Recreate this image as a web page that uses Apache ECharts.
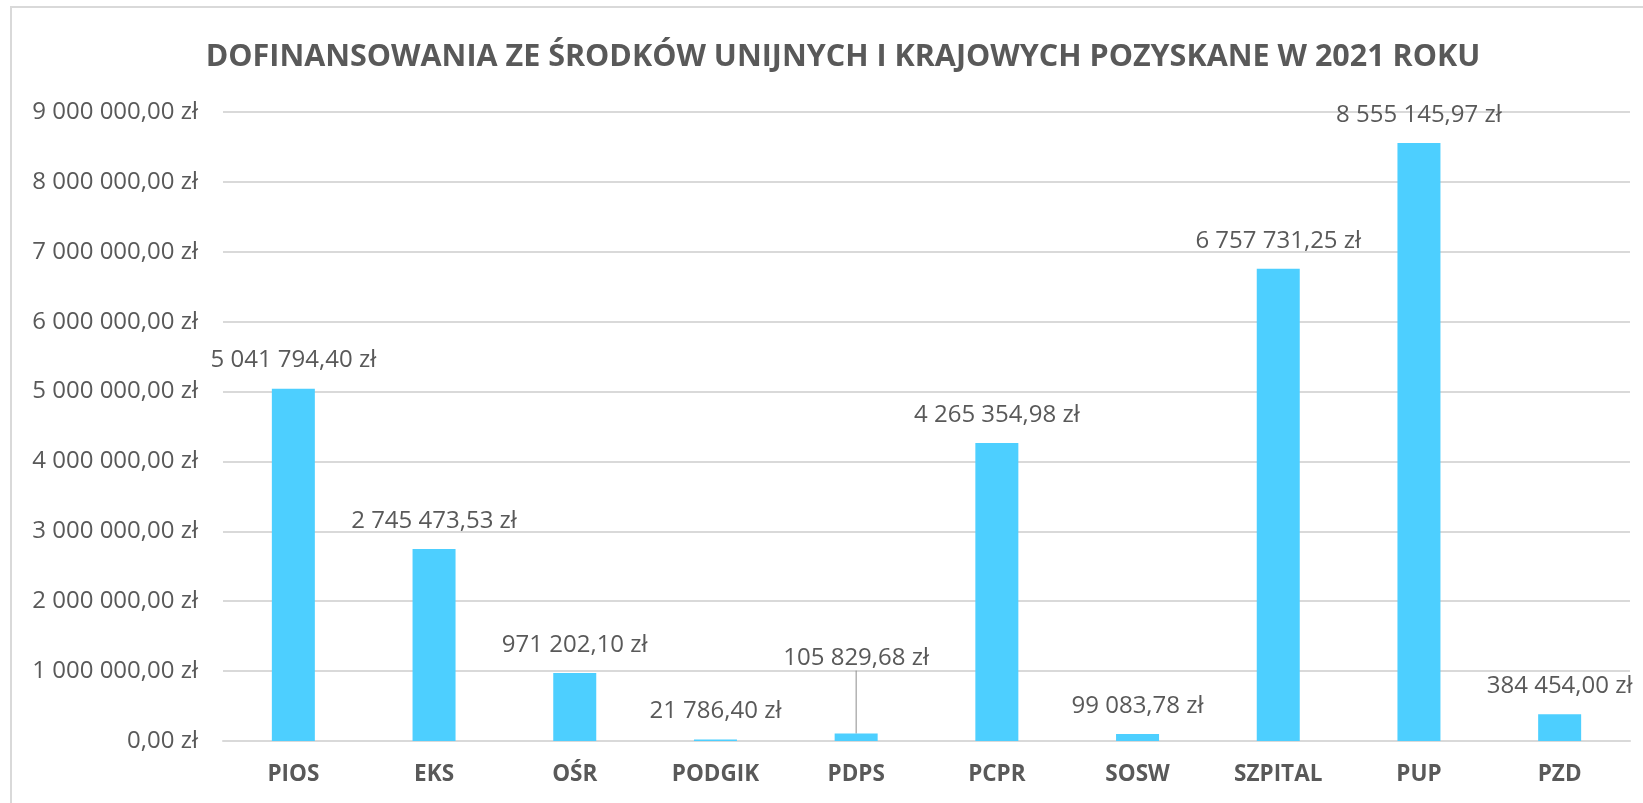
<!DOCTYPE html>
<html lang="pl">
<head>
<meta charset="UTF-8">
<title>Dofinansowania 2021</title>
<script src="https://cdn.jsdelivr.net/npm/echarts@6/dist/echarts.min.js"></script>
<style>
html, body { margin: 0; padding: 0; background: #fff; overflow: hidden; }
#frame { position: absolute; left: 10px; top: 6px; width: 1700px; height: 900px; border-left: 2px solid #d9d9d9; border-top: 2px solid #d9d9d9; }
#chart { position: absolute; left: 0; top: 0; width: 1643px; height: 803px; }
</style>
</head>
<body>
<div id="frame"></div>
<div id="chart"></div>
<script>
const categories = ['PIOS', 'EKS', 'OŚR', 'PODGIK', 'PDPS', 'PCPR', 'SOSW', 'SZPITAL', 'PUP', 'PZD'];
const amounts = [5041794.40, 2745473.53, 971202.10, 21786.40, 105829.68, 4265354.98, 99083.78, 6757731.25, 8555145.97, 384454.00];
const yTicks = { min: 0, max: 9000000, step: 1000000 };
const liftedLabels = [4]; // PDPS: label pushed up with a leader line

function zl(v) {
  const parts = v.toFixed(2).split('.');
  return parts[0].replace(/\B(?=(\d{3})+(?!\d))/g, ' ') + ',' + parts[1] + ' zł';
}

const barData = amounts.map((v, i) => ({
  value: v,
  labelLine: { show: liftedLabels.includes(i) }
}));

const chart = echarts.init(document.getElementById('chart'));
chart.setOption({
  animation: false,
  textStyle: { fontFamily: '"Open Sans", sans-serif', color: '#595959' },
  title: {
    text: 'DOFINANSOWANIA ZE ŚRODKÓW UNIJNYCH I KRAJOWYCH POZYSKANE W 2021 ROKU',
    left: 838,
    textAlign: 'center',
    top: 37,
    textStyle: { fontFamily: '"Open Sans", sans-serif', fontSize: 30.5, fontWeight: 'bold', color: '#595959' }
  },
  grid: { left: 223, right: 13, top: 112, bottom: 62 },
  xAxis: {
    type: 'category',
    data: categories,
    axisLine: { lineStyle: { color: '#d9d9d9', width: 2 } },
    axisTick: { show: false },
    axisLabel: { margin: 22, fontSize: 22.5, fontWeight: 'bold', color: '#595959' }
  },
  yAxis: {
    type: 'value',
    min: yTicks.min,
    max: yTicks.max,
    interval: yTicks.step,
    axisLine: { show: false },
    axisTick: { show: false },
    splitLine: { lineStyle: { color: '#d9d9d9', width: 2 } },
    axisLabel: { margin: 25, fontSize: 24, color: '#595959', formatter: v => zl(v) }
  },
  series: [{
    type: 'bar',
    data: barData,
    barWidth: 43,
    itemStyle: { color: '#4dcfff' },
    label: {
      show: true,
      position: 'top',
      distance: 16,
      fontSize: 24,
      color: '#595959',
      formatter: p => zl(p.value)
    },
    labelLayout: p => liftedLabels.includes(p.dataIndex) ? { dy: -47 } : {},
    labelLine: { show: false, lineStyle: { color: '#8c8c8c', width: 1 } }
  }]
});
</script>
</body>
</html>
